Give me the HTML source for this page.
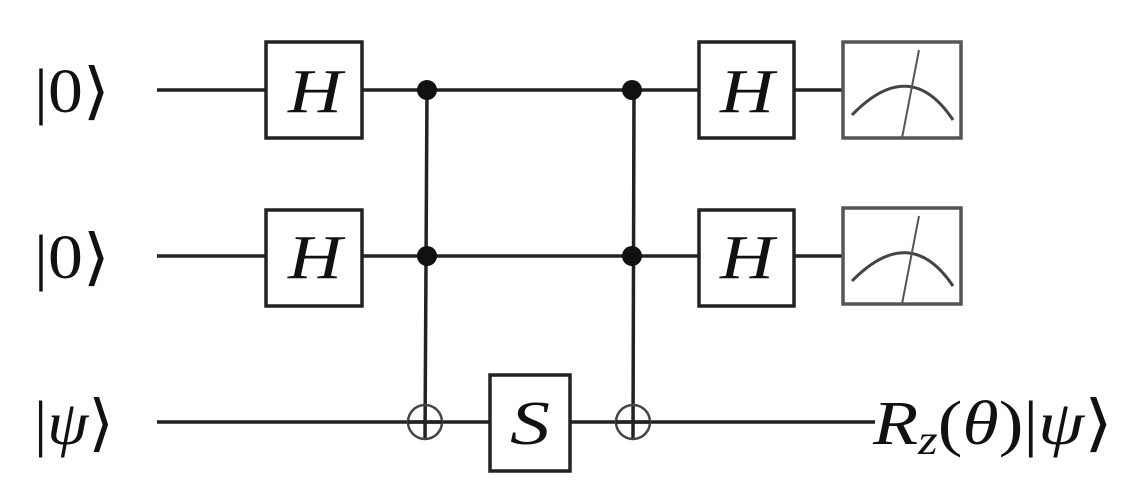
<!DOCTYPE html>
<html><head><style>
body{margin:0;background:#fff;}
svg{display:block}
text{font-family:"Liberation Serif","DejaVu Serif",serif;fill:#111}
</style></head><body>
<svg width="1135" height="496" viewBox="0 0 1135 496" xmlns="http://www.w3.org/2000/svg">
<g stroke="#222" stroke-width="3.5" fill="none">
<line x1="157" y1="90" x2="266" y2="90"/><line x1="362" y1="90" x2="699" y2="90"/><line x1="794" y1="90" x2="843" y2="90"/>
<line x1="157" y1="256" x2="266" y2="256"/><line x1="362" y1="256" x2="699" y2="256"/><line x1="794" y1="256" x2="843" y2="256"/>
<line x1="157" y1="422" x2="875" y2="422"/>
<line x1="427" y1="90" x2="425" y2="439"/>
<line x1="634" y1="90" x2="633" y2="439"/>
<rect x="266" y="42" width="96" height="96" fill="#fff"/>
<rect x="266" y="210" width="96" height="96" fill="#fff"/>
<rect x="699" y="42" width="95" height="96" fill="#fff"/>
<rect x="699" y="210" width="95" height="96" fill="#fff"/>
<rect x="490" y="375" width="80" height="96" fill="#fff"/>
<rect x="843" y="42" width="118" height="96" fill="#fff" stroke="#555"/>
<rect x="843" y="208" width="118" height="96" fill="#fff" stroke="#555"/>
<path d="M852,115 Q910,55 953,120" stroke="#444" stroke-width="3"/>
<path d="M852,281 Q910,222 953,286" stroke="#444" stroke-width="3"/>
<line x1="919" y1="50" x2="902" y2="138" stroke="#555" stroke-width="2"/>
<line x1="919" y1="216" x2="902" y2="304" stroke="#555" stroke-width="2"/>
<circle cx="425" cy="422" r="17" stroke="#444" stroke-width="2.5"/>
<circle cx="633" cy="422" r="17" stroke="#444" stroke-width="2.5"/>
<line x1="408" y1="422" x2="442" y2="422"/>
<line x1="616" y1="422" x2="650" y2="422"/>
</g>
<g fill="#111"><circle cx="427" cy="90" r="10"/><circle cx="427" cy="256" r="10"/><circle cx="632" cy="90" r="10"/><circle cx="632" cy="256" r="10"/></g>
<g font-size="62">
<text x="34" y="112" textLength="76" lengthAdjust="spacingAndGlyphs">|0⟩</text>
<text x="34" y="278" textLength="76" lengthAdjust="spacingAndGlyphs">|0⟩</text>
<text x="34" y="444" textLength="80" lengthAdjust="spacingAndGlyphs">|<tspan font-style="italic">ψ</tspan>⟩</text>
<text x="288" y="112" font-style="italic" textLength="54" lengthAdjust="spacingAndGlyphs">H</text>
<text x="288" y="278" font-style="italic" textLength="54" lengthAdjust="spacingAndGlyphs">H</text>
<text x="720" y="112" font-style="italic" textLength="54" lengthAdjust="spacingAndGlyphs">H</text>
<text x="720" y="278" font-style="italic" textLength="54" lengthAdjust="spacingAndGlyphs">H</text>
<text x="510" y="444" font-style="italic" textLength="40" lengthAdjust="spacingAndGlyphs">S</text>
<text x="873" y="444" textLength="240" lengthAdjust="spacingAndGlyphs"><tspan font-style="italic">R</tspan><tspan font-style="italic" font-size="42" dy="10">z</tspan><tspan dy="-10">(</tspan><tspan font-style="italic">θ</tspan>)|<tspan font-style="italic">ψ</tspan>⟩</text>
</g>
</svg>
</body></html>
